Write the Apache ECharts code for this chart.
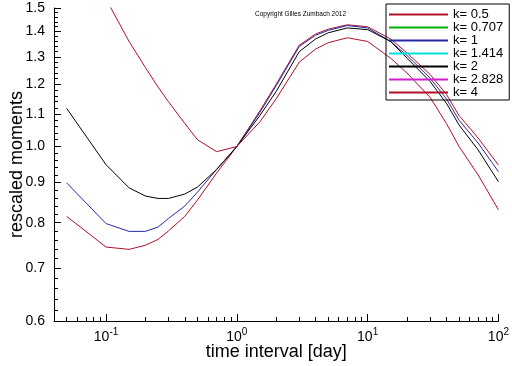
<!DOCTYPE html>
<html>
<head>
<meta charset="utf-8">
<script src="https://cdn.jsdelivr.net/npm/echarts@6/dist/echarts.min.js"></script>
<style>
html,body{margin:0;padding:0;background:#fff;}
#chart{width:512px;height:366px;}
</style>
</head>
<body>
<div id="chart"></div>
<script>
// ---- data ----
const xValues = [0.05, 0.1, 0.15, 0.2, 0.25, 0.3, 0.4, 0.5, 0.7, 1, 1.5, 2, 3, 4, 5, 7, 10, 15, 20, 30, 40, 50, 70, 100];
const k0_5  = [0.815, 0.745, 0.740, 0.749, 0.762, 0.781, 0.815, 0.855, 0.925, 1.0, 1.11, 1.20, 1.345, 1.39, 1.41, 1.428, 1.42, 1.37, 1.315, 1.235, 1.165, 1.095, 1.025, 0.947];
const k0_707 = [];   // listed in the legend, no visible curve
const k1    = [0.899, 0.798, 0.780, 0.780, 0.790, 0.810, 0.840, 0.875, 0.935, 1.0, 1.105, 1.195, 1.34, 1.385, 1.405, 1.425, 1.415, 1.36, 1.305, 1.222, 1.15, 1.08, 1.01, 0.929];
const k1_414 = [];  // listed in the legend, no visible curve
const k2    = [1.118, 0.948, 0.886, 0.865, 0.859, 0.859, 0.870, 0.888, 0.935, 1.0, 1.095, 1.175, 1.32, 1.37, 1.395, 1.415, 1.408, 1.36, 1.295, 1.21, 1.135, 1.065, 0.99, 0.902];
const k2_828 = [];  // listed in the legend, no visible curve
const k4    = [null, 1.54, 1.36, 1.26, 1.19, 1.14, 1.07, 1.02, 0.985, 1.0, 1.075, 1.15, 1.28, 1.33, 1.355, 1.375, 1.36, 1.295, 1.24, 1.155, 1.07, 1.0, 0.92, 0.831];

const seriesNames = ['k= 0.5', 'k= 0.707', 'k= 1', 'k= 1.414', 'k= 2', 'k= 2.828', 'k= 4'];
const seriesValues = [k0_5, k0_707, k1, k1_414, k2, k2_828, k4];
const seriesColors = ['#b0102a', '#00b000', '#2828a8', '#00e0e0', '#000000', '#d020d0', '#b0102a'];

const xMajorTicks = [0.1, 1, 10, 100];
const xMinorTicks = [0.05, 0.06, 0.07, 0.08, 0.09, 0.2, 0.3, 0.4, 0.5, 0.6, 0.7, 0.8, 0.9, 2, 3, 4, 5, 6, 7, 8, 9, 20, 30, 40, 50, 60, 70, 80, 90];
const yMajorTicks = [0.6, 0.7, 0.8, 0.9, 1.0, 1.1, 1.2, 1.3, 1.4, 1.5];
const yMinorTicks = [0.62, 0.64, 0.66, 0.68, 0.72, 0.74, 0.76, 0.78, 0.82, 0.84, 0.86, 0.88, 0.92, 0.94, 0.96, 0.98,
  1.02, 1.04, 1.06, 1.08, 1.12, 1.14, 1.16, 1.18, 1.22, 1.24, 1.26, 1.28, 1.32, 1.34, 1.36, 1.38, 1.42, 1.44, 1.46, 1.48];

const FONT = 'Liberation Sans, Arial, sans-serif';

function pairs(vals) {
  const out = [];
  for (let i = 0; i < vals.length; i++) {
    if (vals[i] !== null && vals[i] !== undefined) out.push([xValues[i], vals[i]]);
  }
  return out.length ? out : [[null, null]];
}

const chart = echarts.init(document.getElementById('chart'), null, {renderer: 'canvas'});

const xBase = {
  type: 'log', logBase: 10, min: 0.04, max: 100, position: 'bottom', gridIndex: 0,
  splitLine: {show: false}, minorTick: {show: false}, minorSplitLine: {show: false}
};
const yBase = {
  type: 'log', logBase: 10, min: 0.6, max: 1.5, position: 'left', gridIndex: 0,
  splitLine: {show: false}, minorTick: {show: false}, minorSplitLine: {show: false}
};

const option = {
  animation: false,
  backgroundColor: '#fff',
  color: seriesColors,
  title: {
    text: 'Copyright Gilles Zumbach 2012',
    left: 255, top: 11, padding: 0,
    textStyle: {fontFamily: FONT, fontSize: 6.5, fontWeight: 'normal', color: '#000'}
  },
  legend: {
    orient: 'vertical', left: 386, top: 4,
    borderColor: '#000', borderWidth: 1, borderRadius: 0,
    padding: [4, 6, 1, 3],
    icon: 'rect',
    itemWidth: 59, itemHeight: 2, itemGap: 0,
    itemStyle: {borderWidth: 0, borderColor: 'transparent'},
    textStyle: {fontFamily: FONT, fontSize: 13, color: '#000'},
    data: seriesNames.map(function (n, i) {
      return {name: n, icon: 'rect', itemStyle: {color: seriesColors[i], borderWidth: 0, borderColor: 'transparent'}};
    })
  },
  grid: {left: 46.5, right: 13.3, top: 8, bottom: 44, containLabel: false},
  xAxis: [
    Object.assign({}, xBase, {
      name: 'time interval [day]', nameLocation: 'middle', nameGap: 22, nameMoveOverlap: false,
      nameTextStyle: {fontFamily: FONT, fontSize: 18, color: '#000'},
      axisLine: {show: true, onZero: false, lineStyle: {color: '#000', width: 1}},
      axisTick: {show: true, inside: true, length: 7, lineStyle: {color: '#000'}, customValues: xMajorTicks},
      axisLabel: {
        show: true, margin: 6, customValues: xMajorTicks, color: '#000',
        fontFamily: FONT, fontSize: 13,
        formatter: function (v) {
          const e = Math.round(Math.log10(v));
          return '{b|10}{s|' + e + '}';
        },
        rich: {
          b: {fontFamily: FONT, fontSize: 14, lineHeight: 20, color: '#000', verticalAlign: 'middle'},
          s: {fontFamily: FONT, fontSize: 10, lineHeight: 10, color: '#000', verticalAlign: 'top'}
        }
      }
    }),
    Object.assign({}, xBase, {
      axisLine: {show: false},
      axisTick: {show: true, inside: true, length: 4, lineStyle: {color: '#000'}, customValues: xMinorTicks},
      axisLabel: {show: false}
    })
  ],
  yAxis: [
    Object.assign({}, yBase, {
      name: 'rescaled moments', nameLocation: 'middle', nameGap: 28, nameMoveOverlap: false,
      nameTextStyle: {fontFamily: FONT, fontSize: 18, color: '#000'},
      axisLine: {show: true, onZero: false, lineStyle: {color: '#000', width: 1}},
      axisTick: {show: true, inside: true, length: 7, lineStyle: {color: '#000'}, customValues: yMajorTicks},
      axisLabel: {
        show: true, margin: 9, customValues: yMajorTicks, color: '#000',
        fontFamily: FONT, fontSize: 14,
        formatter: function (v) { return Number(v).toFixed(1); }
      }
    }),
    Object.assign({}, yBase, {
      axisLine: {show: false},
      axisTick: {show: true, inside: true, length: 4, lineStyle: {color: '#000'}, customValues: yMinorTicks},
      axisLabel: {show: false}
    })
  ],
  series: seriesNames.map(function (name, i) {
    return {
      name: name, type: 'line', xAxisIndex: 0, yAxisIndex: 0,
      data: pairs(seriesValues[i]),
      symbol: 'none', showSymbol: false, smooth: false, clip: true,
      color: seriesColors[i],
      itemStyle: {color: seriesColors[i]},
      lineStyle: {color: seriesColors[i], width: 1},
      emphasis: {disabled: true}
    };
  })
};

chart.setOption(option);
</script>
</body>
</html>
